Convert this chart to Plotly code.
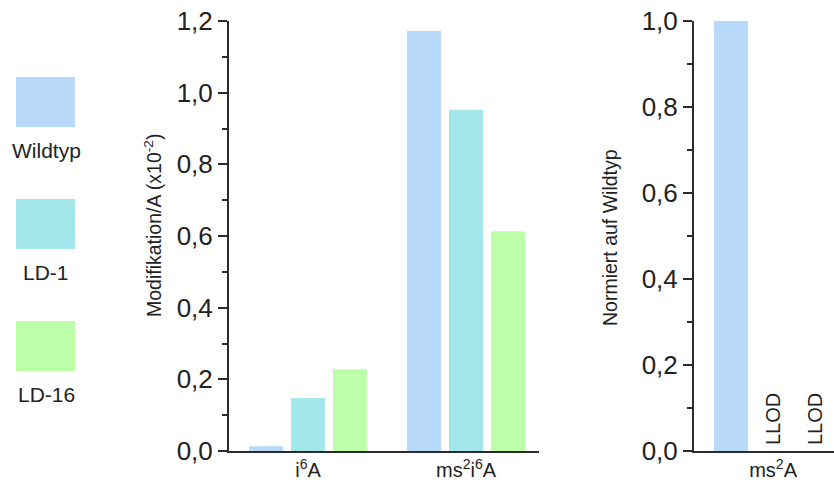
import plotly.graph_objects as go

# ---- data ----
series = ["Wildtyp", "LD-1", "LD-16"]
colors = ["#B9D9FB", "#A3E7EC", "#BDFFA8"]
left_categories = ["i<sup>6</sup>A", "ms<sup>2</sup>i<sup>6</sup>A"]
left_values = {
    "Wildtyp": [0.013, 1.172],
    "LD-1": [0.148, 0.952],
    "LD-16": [0.228, 0.613],
}
right_categories = ["ms<sup>2</sup>A"]
right_values = {
    "Wildtyp": [1.0],
    "LD-1": [None],
    "LD-16": [None],
}
right_labels = {"Wildtyp": None, "LD-1": "LLOD", "LD-16": "LLOD"}
left_yticks = [0.0, 0.2, 0.4, 0.6, 0.8, 1.0, 1.2]
right_yticks = [0.0, 0.2, 0.4, 0.6, 0.8, 1.0]

FONT = "Liberation Sans, Arial, sans-serif"
AXC = "#2b2b2b"
BARGAP = 0.203
BARGROUPGAP = 0.19

fig = go.Figure()
for name, col in zip(series, colors):
    fig.add_trace(go.Bar(x=left_categories, y=left_values[name], name=name,
                         marker=dict(color=col, line=dict(width=0)),
                         xaxis="x", yaxis="y", showlegend=False))
for name, col in zip(series, colors):
    fig.add_trace(go.Bar(x=right_categories, y=right_values[name], name=name,
                         marker=dict(color=col, line=dict(width=0)),
                         xaxis="x2", yaxis="y2", showlegend=False))

W, H = 834, 482
ydom = [1 - 451 / H, 1 - 21 / H]

def yax(rng, ticks, anchor):
    return dict(range=rng, tickvals=ticks, tickformat=".1f", ticks="outside",
                ticklen=9, tickwidth=1.5, tickcolor=AXC, showline=True,
                linecolor=AXC, linewidth=2, showgrid=False, zeroline=False,
                domain=ydom, anchor=anchor, automargin=False,
                tickfont=dict(size=26, color="#222", family=FONT),
                minor=dict(dtick=0.1, ticks="outside", ticklen=5, tickwidth=1.5,
                           tickcolor=AXC, showgrid=False))

def xax(dom, rng, anchor):
    return dict(domain=dom, range=rng, anchor=anchor, showline=True,
                linecolor=AXC, linewidth=2, ticks="", showgrid=False,
                zeroline=False, type="category", automargin=False,
                tickfont=dict(size=20, color="#222", family=FONT))

fig.update_layout(
    width=W, height=H, margin=dict(l=0, r=0, t=0, b=0, pad=0, autoexpand=False),
    paper_bgcolor="white", plot_bgcolor="white",
    separators=",.",
    barmode="group", bargap=BARGAP, bargroupgap=BARGROUPGAP,
    font=dict(family=FONT, color="#222"),
    xaxis=xax([229 / W, 539 / W], [-0.5, 1.462], "y"),
    yaxis=yax([0, 1.2], left_yticks, "x"),
    xaxis2=xax([694 / W, 1.0], [-0.5, 0.385], "y2"),
    yaxis2=yax([0, 1.0], right_yticks, "x2"),
)

annotations = []
# axis titles
annotations.append(dict(text="Modifikation/A (x10<sup>-2</sup>)", xref="paper", yref="paper",
                        x=153 / W, y=1 - 226 / H, showarrow=False, textangle=-90,
                        font=dict(size=19.5, color="#222", family=FONT),
                        xanchor="center", yanchor="middle"))
annotations.append(dict(text="Normiert auf Wildtyp", xref="paper", yref="paper",
                        x=610 / W, y=1 - 238 / H, showarrow=False, textangle=-90,
                        font=dict(size=19.5, color="#222", family=FONT),
                        xanchor="center", yanchor="middle"))
# LLOD labels at the slot of each missing series
slot = (1 - BARGAP) / len(series)
for i, name in enumerate(series):
    if right_labels[name]:
        annotations.append(dict(text=right_labels[name], xref="x2", yref="y2",
                                x=0 + (i - (len(series) - 1) / 2) * slot, y=0,
                                showarrow=False, textangle=-90, yanchor="bottom",
                                xanchor="center", yshift=4,
                                font=dict(size=20, color="#222", family=FONT)))

# custom legend: square above label
shapes = []
legend_tops = [77, 199, 321]
for name, col, top in zip(series, colors, legend_tops):
    shapes.append(dict(type="rect", xref="paper", yref="paper",
                       x0=16 / W, x1=75 / W, y0=1 - (top + 50) / H, y1=1 - top / H,
                       fillcolor=col, line=dict(width=0)))
    annotations.append(dict(text=name, xref="paper", yref="paper",
                            x=46 / W, y=1 - (top + 73) / H, showarrow=False,
                            xanchor="center", yanchor="middle",
                            font=dict(size=21, color="#222", family=FONT)))

fig.update_layout(annotations=annotations, shapes=shapes)
fig.write_html(
    "out.html",
    config={"displayModeBar": False},
    post_script="document.body.style.margin='0';document.body.style.padding='0';"
                "document.body.style.overflow='hidden';",
)
